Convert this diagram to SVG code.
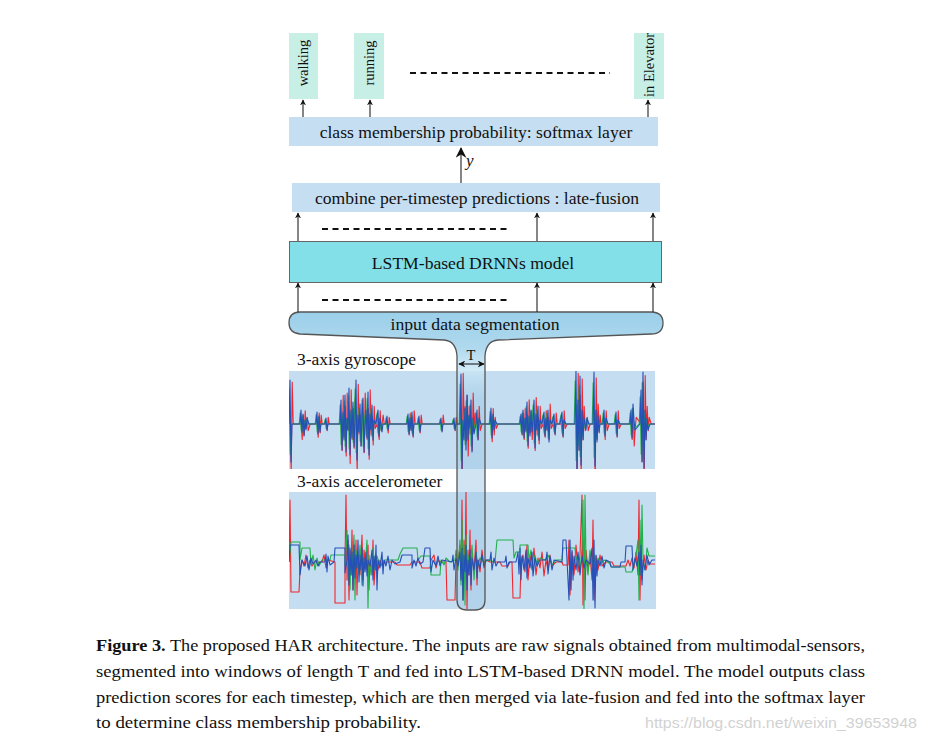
<svg xmlns="http://www.w3.org/2000/svg" xmlns:xlink="http://www.w3.org/1999/xlink" width="926" height="742" viewBox="0 0 926 742">
<style>
.serif{font-family:"Liberation Serif","Times New Roman",serif;fill:#111}
.lbl{fill:#c8efe6}
.layer{fill:#c6def2}
.conn line{stroke:#222;stroke-width:1.1}
.conn .dash{stroke:#111;stroke-width:2;stroke-dasharray:6 4.5}
.panel{fill:#c5ddf0}
.sig{fill:none;stroke-width:1.1;stroke-linejoin:round}
</style>
<defs>
<marker id="ah" viewBox="0 0 10 10" refX="9" refY="5" markerWidth="6" markerHeight="7" orient="auto" markerUnits="userSpaceOnUse"><path d="M0,0 L10,5 L0,10 L3,5 Z" fill="#111"/></marker>
<marker id="ahbig" viewBox="0 0 10 10" refX="9" refY="5" markerWidth="12" markerHeight="11" orient="auto" markerUnits="userSpaceOnUse"><path d="M0,0 L10,5 L0,10 L3,5 Z" fill="#111"/></marker>
<marker id="ahs" viewBox="0 0 10 10" refX="9" refY="5" markerWidth="7" markerHeight="7" orient="auto-start-reverse" markerUnits="userSpaceOnUse"><path d="M0,0 L10,5 L0,10 L3,5 Z" fill="#111"/></marker>
<linearGradient id="segg" gradientUnits="userSpaceOnUse" x1="0" y1="312" x2="0" y2="610">
<stop offset="0" stop-color="#9bcfe9"/>
<stop offset="0.12" stop-color="#afd9ee"/>
<stop offset="0.2" stop-color="#c8e6f5" stop-opacity="0.8"/>
<stop offset="0.3" stop-color="#9cc6e6" stop-opacity="0.5"/>
<stop offset="1" stop-color="#9cc6e6" stop-opacity="0.45"/>
</linearGradient>
<clipPath id="cg"><rect x="289" y="371" width="366" height="98"/></clipPath>
<clipPath id="ca"><rect x="289" y="492" width="367" height="117"/></clipPath>
<path id="gb" d="M289,424 L290,380 L291,462 L292,424 L300,424 L301,410 L302,432 L303,414 L304,436 L305,420 L306,430 L307,418 L309,424 L316,424 L317,412 L318,434 L319,416 L320,432 L321,424 L325,424 L326,418 L327,430 L328,424 L340,424 L341,400 L342,450 L343,412 L344,440 L345,395 L346,452 L347,418 L348,430 L349,388 L350,455 L351,410 L352,438 L353,402 L354,447 L355,420 L356,380 L357,460 L358,415 L359,432 L360,404 L361,446 L362,418 L363,398 L364,452 L365,425 L366,410 L367,438 L368,392 L369,455 L370,414 L371,430 L372,405 L373,440 L374,420 L376,424 L378,410 L379,436 L380,418 L382,432 L383,424 L386,424 L387,416 L388,430 L389,424 L407,424 L408,414 L409,434 L410,418 L411,430 L412,412 L413,436 L414,424 L418,424 L419,416 L420,432 L421,424 L440,424 L441,418 L442,432 L443,424 L453,424 L454,418 L455,430 L456,424 L460,424 L461,374 L462,470 L463,420 L464,440 L465,408 L466,450 L467,395 L468,440 L469,415 L470,428 L471,400 L472,452 L473,418 L474,434 L476,424 L477,410 L478,440 L479,418 L481,424 L490,424 L491,408 L492,438 L493,414 L494,430 L495,420 L497,424 L520,424 L521,414 L522,434 L523,410 L524,438 L525,418 L526,432 L527,402 L528,446 L529,416 L530,436 L531,410 L532,432 L533,420 L534,400 L535,448 L536,414 L537,430 L538,406 L539,440 L540,420 L542,424 L544,412 L545,436 L546,418 L547,430 L548,410 L549,442 L550,420 L552,424 L554,414 L555,434 L556,424 L560,424 L562,412 L563,436 L564,420 L566,424 L575,424 L576,370 L577,470 L578,400 L579,450 L580,376 L581,465 L582,410 L583,440 L584,418 L586,430 L587,418 L589,424 L593,424 L594,372 L595,466 L596,410 L597,442 L598,416 L599,432 L600,424 L603,424 L604,410 L605,436 L606,418 L608,424 L615,424 L616,412 L617,436 L618,420 L620,424 L630,424 L631,410 L632,438 L633,404 L634,420 L635,430 L640,424 L641,390 L642,462 L643,372 L644,468 L645,410 L646,440 L647,418 L648,430 L650,424 L655,424"/>
</defs>
<rect width="926" height="742" fill="#fff"/>

<!-- output labels -->
<g id="walking"><rect class="lbl" x="289" y="33" width="29" height="66"/><text class="serif" font-size="14.5" text-anchor="middle" transform="translate(308,63) rotate(-90)">walking</text></g>
<g id="running"><rect class="lbl" x="354" y="33" width="30" height="66"/><text class="serif" font-size="14.5" text-anchor="middle" transform="translate(374,63) rotate(-90)">running</text></g>
<g id="elevator"><rect class="lbl" x="634" y="33" width="30" height="66"/><text class="serif" font-size="14.5" text-anchor="middle" transform="translate(654,65) rotate(-90)">in Elevator</text></g>

<g id="softmax"><rect class="layer" x="289" y="117" width="369" height="29"/><text class="serif" font-size="17.6" x="476" y="137.5" text-anchor="middle">class membership probability: softmax layer</text></g>
<g id="latefusion"><rect class="layer" x="292" y="183" width="368" height="29"/><text class="serif" font-size="17.6" x="477" y="203.5" text-anchor="middle">combine per-timestep predictions : late-fusion</text></g>
<g id="lstm"><rect x="289.5" y="241.5" width="372" height="41" fill="#83e0e8" stroke="#666" stroke-width="1"/><text class="serif" font-size="17.6" x="473" y="269" text-anchor="middle">LSTM-based DRNNs model</text></g>

<!-- sensor panels -->
<g id="gyroscope"><text class="serif" font-size="17.5" x="297" y="365">3-axis gyroscope</text><rect class="panel" x="289" y="371" width="366" height="98"/></g>
<g id="accelerometer"><text class="serif" font-size="17.5" x="297" y="487">3-axis accelerometer</text><rect class="panel" x="289" y="492" width="367" height="117"/></g>

<g id="segmentation">
<path d="M300,312 L651,312 Q663,312 663,323 Q663,334 651,334 L498,340 Q486,341 485,356 L485,600 Q485,610 475,610 L467,610 Q457,610 457,600 L457,356 Q456,341 444,340 L300,334 Q289,333 289,323 Q289,312 300,312 Z" fill="url(#segg)"/>
<text class="serif" font-size="17.7" x="475" y="330" text-anchor="middle">input data segmentation</text>
</g>

<!-- signals -->
<g id="signals">
<g clip-path="url(#cg)">
<use xlink:href="#gb" class="sig" stroke="#f0262e" transform="matrix(1,0,0,-1.1,1.2,890.4)" vector-effect="non-scaling-stroke"/>
<use xlink:href="#gb" class="sig" stroke="#22b04a" transform="matrix(1,0,0,0.8,-0.8,84.8)"/>
<use xlink:href="#gb" class="sig" stroke="#2450b8"/>
</g>
<g clip-path="url(#ca)">
<path class="sig" stroke="#f0262e" d="M289,562 L290,500 L291,592 L299,592 L300,570 L302,560 L304,566 L306,555 L308,568 L310,560 L312,566 L315,562 L322,562 L324,555 L326,568 L328,560 L335,562 L335,603 L345,603 L345,562 L346,495 L347,580 L348,540 L349,600 L350,550 L351,575 L352,530 L353,590 L354,545 L355,570 L356,540 L357,595 L358,555 L360,575 L362,535 L363,580 L364,550 L366,570 L368,545 L369,590 L370,560 L372,575 L373,540 L374,585 L376,555 L378,570 L380,560 L382,566 L385,562 L395,562 L397,565 L410,565 L412,562 L420,562 L422,568 L430,568 L431,560 L434,555 L436,568 L438,560 L440,562 L446,562 L447,600 L455,600 L456,560 L458,562 L460,545 L461,580 L462,500 L463,600 L464,540 L465,580 L466,492 L467,610 L468,550 L469,575 L470,530 L471,590 L472,555 L474,570 L476,540 L477,585 L478,560 L480,572 L482,550 L484,568 L486,560 L490,562 L500,562 L502,566 L508,566 L510,562 L512,562 L513,598 L520,598 L521,562 L523,555 L525,572 L527,545 L528,580 L530,555 L532,570 L534,548 L536,575 L538,558 L540,568 L542,552 L544,576 L546,560 L548,570 L550,555 L552,566 L556,562 L562,562 L563,565 L568,565 L569,540 L570,595 L572,552 L574,575 L576,545 L578,572 L580,555 L582,495 L583,605 L584,540 L585,600 L586,550 L588,570 L590,555 L592,580 L593,520 L594,600 L596,556 L598,570 L600,555 L602,566 L606,562 L612,562 L614,566 L626,566 L628,560 L630,566 L632,558 L634,568 L636,552 L638,575 L639,500 L640,600 L641,540 L642,580 L644,555 L646,570 L648,560 L650,564 L655,564"/>
<path class="sig" stroke="#22b04a" d="M289,562 L291,542 L300,542 L300,560 L302,548 L310,548 L311,565 L313,555 L315,570 L317,558 L319,566 L322,560 L330,560 L331,555 L345,555 L345,565 L347,530 L348,580 L349,545 L350,590 L351,555 L352,570 L354,535 L355,600 L356,550 L358,575 L360,545 L362,585 L363,555 L365,568 L367,540 L368,608 L369,555 L371,575 L373,548 L375,570 L377,556 L380,566 L385,560 L398,560 L400,554 L403,548 L417,548 L418,560 L421,556 L430,556 L431,575 L440,575 L441,560 L444,565 L446,558 L450,562 L455,560 L456,550 L458,570 L460,540 L461,585 L462,520 L463,600 L464,545 L465,605 L466,535 L467,575 L468,555 L470,570 L472,545 L474,580 L476,552 L478,566 L480,558 L484,562 L488,560 L495,562 L497,540 L513,540 L514,558 L516,552 L520,552 L520,545 L528,545 L529,560 L531,550 L533,570 L535,555 L537,565 L540,558 L545,560 L548,555 L552,565 L556,560 L562,560 L563,548 L575,548 L576,560 L578,555 L580,572 L582,548 L583,500 L584,610 L585,495 L586,560 L588,575 L590,550 L592,565 L594,555 L596,570 L598,558 L601,564 L604,560 L608,562 L612,567 L625,567 L626,572 L632,572 L634,565 L636,555 L638,540 L639,600 L640,520 L641,575 L642,505 L643,560 L645,570 L647,548 L649,556 L655,556"/>
<path class="sig" stroke="#2450b8" d="M289,562 L290,545 L299,545 L300,575 L302,560 L305,566 L307,556 L309,570 L311,558 L313,564 L316,560 L318,566 L320,562 L325,562 L326,554 L327,572 L328,556 L330,565 L334,562 L335,548 L345,548 L345,573 L347,560 L348,535 L349,585 L350,548 L351,575 L352,552 L353,590 L354,545 L355,578 L356,555 L357,568 L358,540 L359,582 L360,555 L361,570 L362,548 L363,586 L364,558 L365,572 L366,552 L367,576 L368,560 L370,566 L372,550 L373,580 L374,556 L375,570 L376,545 L377,590 L378,560 L380,568 L382,552 L383,574 L384,560 L386,566 L388,556 L390,570 L392,560 L395,564 L400,562 L402,555 L412,555 L412,568 L414,560 L416,566 L418,558 L420,564 L423,562 L425,548 L430,548 L431,572 L433,560 L436,566 L438,556 L440,566 L442,560 L452,562 L453,555 L454,570 L456,558 L458,566 L460,552 L461,580 L462,548 L463,600 L464,555 L465,572 L466,545 L467,590 L468,560 L469,575 L470,550 L471,585 L472,558 L474,570 L476,552 L477,578 L478,560 L480,568 L482,555 L484,566 L486,560 L490,560 L491,552 L492,570 L494,558 L496,566 L498,562 L505,562 L506,556 L507,568 L509,562 L516,562 L518,552 L519,574 L520,548 L521,580 L522,556 L524,570 L526,550 L527,578 L528,558 L530,568 L532,552 L533,576 L535,558 L537,566 L540,560 L546,560 L547,552 L548,574 L550,556 L552,570 L554,560 L562,562 L563,540 L566,540 L567,560 L569,600 L570,540 L571,590 L572,550 L573,580 L574,556 L576,570 L578,552 L580,575 L582,556 L584,568 L586,560 L590,564 L592,548 L593,600 L594,540 L595,608 L596,555 L597,576 L598,560 L600,566 L602,556 L604,568 L606,560 L610,562 L611,567 L620,567 L621,562 L625,562 L626,546 L632,546 L633,570 L635,558 L637,566 L639,552 L640,575 L641,545 L642,585 L643,560 L645,570 L647,555 L649,565 L652,560 L655,560"/>
</g>
</g>

<path id="segmentation-outline" d="M300,312 L651,312 Q663,312 663,323 Q663,334 651,334 L498,340 Q486,341 485,356 L485,600 Q485,610 475,610 L467,610 Q457,610 457,600 L457,356 Q456,341 444,340 L300,334 Q289,333 289,323 Q289,312 300,312 Z" fill="none" stroke="#555" stroke-width="1.3"/>

<!-- connectors -->
<g id="connectors" class="conn">
<line x1="303" y1="117" x2="303" y2="100" marker-end="url(#ah)"/>
<line x1="370" y1="117" x2="370" y2="100" marker-end="url(#ah)"/>
<line x1="648" y1="117" x2="648" y2="100" marker-end="url(#ah)"/>
<line x1="461" y1="183" x2="461" y2="148" stroke-width="2" marker-end="url(#ahbig)"/>
<line x1="298" y1="241" x2="298" y2="213" marker-end="url(#ah)"/>
<line x1="537" y1="241" x2="537" y2="213" marker-end="url(#ah)"/>
<line x1="653" y1="241" x2="653" y2="213" marker-end="url(#ah)"/>
<line x1="298" y1="312" x2="298" y2="283" marker-end="url(#ah)"/>
<line x1="537" y1="312" x2="537" y2="283" marker-end="url(#ah)"/>
<line x1="653" y1="312" x2="653" y2="283" marker-end="url(#ah)"/>
<line x1="459" y1="364" x2="484" y2="364" marker-start="url(#ahs)" marker-end="url(#ahs)"/>
<line class="dash" x1="410" y1="73" x2="610" y2="73"/>
<line class="dash" x1="322" y1="229" x2="508" y2="229"/>
<line class="dash" x1="322" y1="300" x2="508" y2="300"/>
</g>
<text class="serif" font-size="17" font-style="italic" x="466" y="166">y</text>
<text class="serif" font-size="14.5" x="471" y="360" text-anchor="middle">T</text>

<!-- caption -->
<g id="caption" class="serif" font-size="17">
<text x="96" y="651" textLength="769" lengthAdjust="spacingAndGlyphs"><tspan font-weight="bold">Figure 3.</tspan> The proposed HAR architecture. The inputs are raw signals obtained from multimodal-sensors,</text>
<text x="96" y="677" textLength="769" lengthAdjust="spacingAndGlyphs">segmented into windows of length T and fed into LSTM-based DRNN model. The model outputs class</text>
<text x="96" y="703" textLength="769" lengthAdjust="spacingAndGlyphs">prediction scores for each timestep, which are then merged via late-fusion and fed into the softmax layer</text>
<text x="96" y="728" textLength="325" lengthAdjust="spacingAndGlyphs">to determine class membership probability.</text>
</g>
<text x="645" y="728" font-family="'Liberation Sans Narrow','Liberation Sans',sans-serif" font-size="15" fill="#d2d2d2" textLength="272" lengthAdjust="spacingAndGlyphs">https://blog.csdn.net/weixin_39653948</text>
</svg>
